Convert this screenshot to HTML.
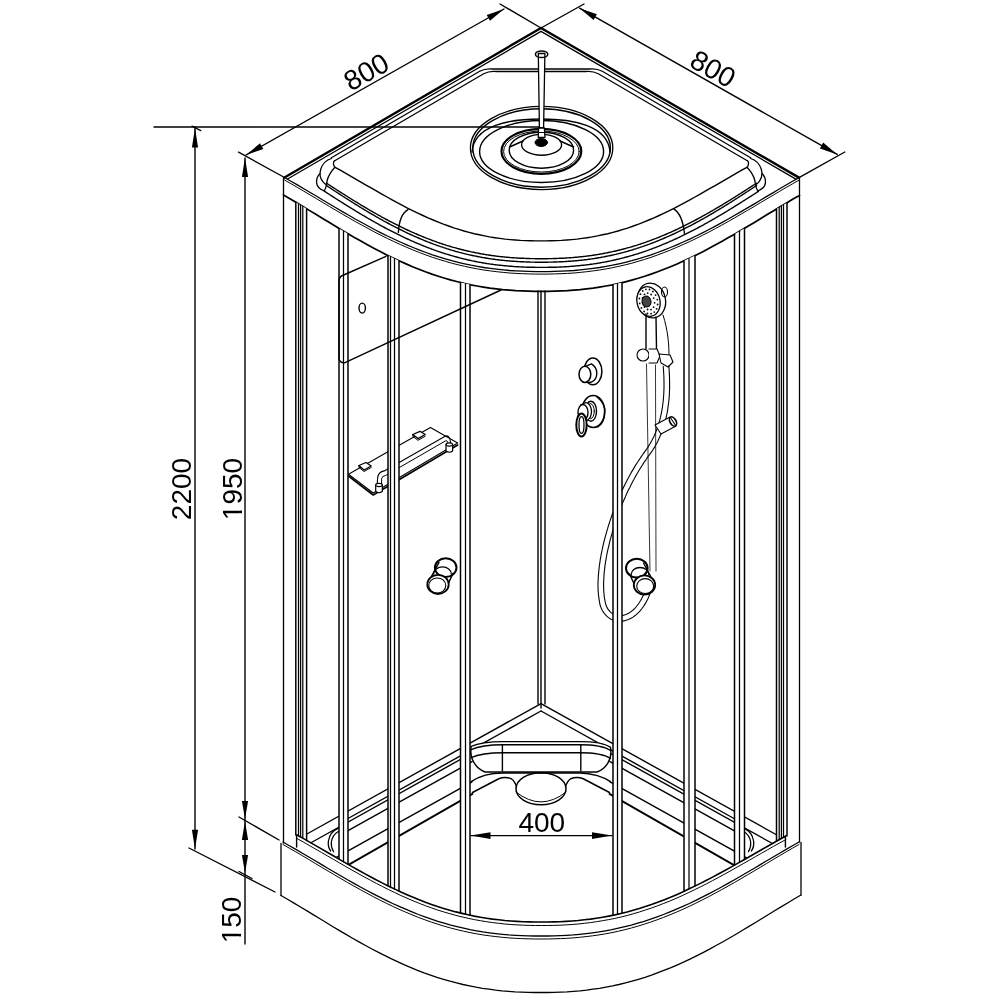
<!DOCTYPE html>
<html><head><meta charset="utf-8"><style>
html,body{margin:0;padding:0;background:#fff;}
svg{display:block;}
text{font-family:"Liberation Sans",sans-serif;fill:#000;stroke:none;}
svg{will-change:transform;}
</style></head><body>
<svg width="1000" height="1000" viewBox="0 0 1000 1000" stroke="#000" fill="none" stroke-linecap="round" stroke-linejoin="round">
<rect x="0" y="0" width="1000" height="1000" fill="#fff" stroke="none"/>
<line x1="154.0" y1="127.0" x2="539.0" y2="127.0" stroke-width="1.4"/>
<line x1="195.0" y1="127.0" x2="195.0" y2="849.0" stroke-width="1.4"/>
<path d="M195.0,128.2 L198.1,147.4 L191.9,147.4 Z" fill="#000" stroke="none"/>
<path d="M195.0,849.0 L191.9,829.8 L198.1,829.8 Z" fill="#000" stroke="none"/>
<line x1="192.0" y1="126.2" x2="200.8" y2="130.6" stroke-width="1.3"/>
<line x1="189.0" y1="848.0" x2="275.0" y2="892.0" stroke-width="1.4"/>
<line x1="245.0" y1="158.0" x2="245.0" y2="944.0" stroke-width="1.4"/>
<path d="M245.0,157.8 L248.1,177.0 L241.9,177.0 Z" fill="#000" stroke="none"/>
<path d="M245.0,819.0 L241.9,801.0 L248.1,801.0 Z" fill="#000" stroke="none"/>
<path d="M245.0,821.0 L248.1,840.0 L241.9,840.0 Z" fill="#000" stroke="none"/>
<path d="M245.0,873.0 L241.9,855.0 L248.1,855.0 Z" fill="#000" stroke="none"/>
<line x1="238.6" y1="152.2" x2="284.5" y2="177.5" stroke-width="1.4"/>
<line x1="239.0" y1="817.0" x2="279.0" y2="840.0" stroke-width="1.4"/>
<line x1="239.0" y1="871.5" x2="252.0" y2="878.5" stroke-width="1.4"/>
<line x1="246.0" y1="155.0" x2="504.0" y2="9.0" stroke-width="1.4"/>
<path d="M246.0,155.0 L260.0,143.3 L263.3,149.0 Z" fill="#000" stroke="none"/>
<path d="M504.0,9.0 L490.0,20.7 L486.7,15.0 Z" fill="#000" stroke="none"/>
<line x1="500.0" y1="4.0" x2="541.0" y2="28.0" stroke-width="1.4"/>
<line x1="579.6" y1="8.2" x2="837.2" y2="154.4" stroke-width="1.4"/>
<path d="M579.6,8.2 L596.9,14.2 L593.6,20.0 Z" fill="#000" stroke="none"/>
<path d="M837.2,154.4 L819.9,148.4 L823.2,142.6 Z" fill="#000" stroke="none"/>
<line x1="584.0" y1="4.0" x2="541.0" y2="28.0" stroke-width="1.4"/>
<line x1="799.0" y1="177.6" x2="844.8" y2="152.0" stroke-width="1.4"/>
<line x1="470.5" y1="835.6" x2="612.0" y2="835.6" stroke-width="1.4"/>
<path d="M470.5,835.6 L490.5,832.3 L490.5,838.9 Z" fill="#000" stroke="none"/>
<path d="M612.0,835.6 L592.0,838.9 L592.0,832.3 Z" fill="#000" stroke="none"/>
<text x="366.3" y="72" font-size="28" text-anchor="middle" dominant-baseline="central" transform="rotate(-29.5 366.3 72)">800</text>
<text x="713" y="69" font-size="28" text-anchor="middle" dominant-baseline="central" transform="rotate(29.5 713 69)">800</text>
<text x="181.5" y="489" font-size="28" text-anchor="middle" dominant-baseline="central" transform="rotate(-90 181.5 489)">2200</text>
<text x="232" y="489" font-size="28" text-anchor="middle" dominant-baseline="central" transform="rotate(-90 232 489)">1950</text>
<text x="231" y="920" font-size="28" text-anchor="middle" dominant-baseline="central" transform="rotate(-90 231 920)">150</text>
<text x="541.8" y="822.5" font-size="28" text-anchor="middle" dominant-baseline="central">400</text>
<g transform="rotate(-90 232 489)" fill="#fff" stroke="none"><rect x="202.05" y="496.17" width="5.75" height="3.5"/><rect x="210.40" y="496.17" width="5.60" height="3.5"/></g>
<g transform="rotate(-90 231 920)" fill="#fff" stroke="none"><rect x="208.84" y="927.17" width="5.75" height="3.5"/><rect x="217.19" y="927.17" width="5.60" height="3.5"/></g>
<line x1="284.5" y1="177.5" x2="541.0" y2="28.0" stroke-width="2.4"/>
<line x1="799.0" y1="177.6" x2="541.0" y2="28.0" stroke-width="2.4"/>
<line x1="287.6" y1="179.0" x2="541.0" y2="31.4" stroke-width="1.3"/>
<line x1="795.9" y1="179.1" x2="541.0" y2="31.4" stroke-width="1.3"/>
<path d="M331.4,157.8 L479.7,71.3 Q485.2,68.2 492.7,69.0 L589.3,69.0 Q596.8,68.2 602.3,71.3 L750.6,157.8" stroke-width="1.3" fill="none"/>
<path d="M334.7,160.7 L483.7,73.8 Q489.2,70.7 496.7,71.5 L585.3,71.5 Q592.8,70.7 598.3,73.8 L747.3,160.7" stroke-width="1.3" fill="none"/>
<path d="M284.5,177.5 L290.9,181.2 L297.4,184.9 L303.8,188.7 L310.2,192.5 L316.7,196.3 L323.1,200.2 L329.5,204.0 L335.9,207.8 L342.4,211.6 L348.8,215.3 L355.2,219.0 L361.7,222.5 L368.1,226.0 L374.5,229.5 L381.0,232.8 L387.4,236.0 L393.8,239.0 L400.3,242.0 L406.7,244.8 L413.1,247.5 L419.6,250.1 L426.0,252.5 L432.4,254.8 L438.9,256.9 L445.3,258.8 L451.7,260.7 L458.1,262.3 L464.6,263.8 L471.0,265.2 L477.4,266.4 L483.9,267.5 L490.3,268.4 L496.7,269.2 L503.2,269.9 L509.6,270.5 L516.0,270.9 L522.5,271.2 L528.9,271.4 L535.3,271.6 L541.8,271.6 L548.2,271.6 L554.6,271.4 L561.0,271.2 L567.5,270.9 L573.9,270.5 L580.3,269.9 L586.8,269.2 L593.2,268.4 L599.6,267.5 L606.1,266.4 L612.5,265.2 L618.9,263.8 L625.4,262.3 L631.8,260.7 L638.2,258.8 L644.6,256.9 L651.1,254.8 L657.5,252.5 L663.9,250.1 L670.4,247.5 L676.8,244.8 L683.2,242.0 L689.7,239.1 L696.1,236.0 L702.5,232.8 L709.0,229.5 L715.4,226.1 L721.8,222.6 L728.3,219.0 L734.7,215.3 L741.1,211.6 L747.5,207.9 L754.0,204.1 L760.4,200.2 L766.8,196.4 L773.3,192.6 L779.7,188.8 L786.1,185.0 L792.6,181.3 L799.0,177.6" stroke-width="1.3" fill="none"/>
<path d="M284.5,180.0 L290.9,183.7 L297.4,187.4 L303.8,191.2 L310.2,195.0 L316.7,198.8 L323.1,202.7 L329.5,206.5 L335.9,210.3 L342.4,214.1 L348.8,217.8 L355.2,221.5 L361.7,225.0 L368.1,228.5 L374.5,232.0 L381.0,235.3 L387.4,238.5 L393.8,241.5 L400.3,244.5 L406.7,247.3 L413.1,250.0 L419.6,252.6 L426.0,255.0 L432.4,257.3 L438.9,259.4 L445.3,261.3 L451.7,263.2 L458.1,264.8 L464.6,266.3 L471.0,267.7 L477.4,268.9 L483.9,270.0 L490.3,270.9 L496.7,271.7 L503.2,272.4 L509.6,273.0 L516.0,273.4 L522.5,273.7 L528.9,273.9 L535.3,274.1 L541.8,274.1 L548.2,274.1 L554.6,273.9 L561.0,273.7 L567.5,273.4 L573.9,273.0 L580.3,272.4 L586.8,271.7 L593.2,270.9 L599.6,270.0 L606.1,268.9 L612.5,267.7 L618.9,266.3 L625.4,264.8 L631.8,263.2 L638.2,261.3 L644.6,259.4 L651.1,257.3 L657.5,255.0 L663.9,252.6 L670.4,250.0 L676.8,247.3 L683.2,244.5 L689.7,241.6 L696.1,238.5 L702.5,235.3 L709.0,232.0 L715.4,228.6 L721.8,225.1 L728.3,221.5 L734.7,217.8 L741.1,214.1 L747.5,210.4 L754.0,206.6 L760.4,202.7 L766.8,198.9 L773.3,195.1 L779.7,191.3 L786.1,187.5 L792.6,183.8 L799.0,180.1" stroke-width="1.0" fill="none"/>
<path d="M283.5,195.0 L289.9,198.7 L296.4,202.6 L302.9,206.4 L309.3,210.4 L315.8,214.3 L322.2,218.2 L328.6,222.1 L335.1,226.0 L341.6,229.9 L348.0,233.7 L354.4,237.5 L360.9,241.1 L367.4,244.7 L373.8,248.2 L380.2,251.6 L386.7,254.9 L393.1,258.0 L399.6,261.0 L406.1,263.9 L412.5,266.7 L418.9,269.3 L425.4,271.8 L431.9,274.1 L438.3,276.2 L444.8,278.2 L451.2,280.1 L457.6,281.8 L464.1,283.4 L470.6,284.8 L477.0,286.0 L483.4,287.1 L489.9,288.1 L496.4,288.9 L502.8,289.6 L509.2,290.1 L515.7,290.6 L522.1,290.9 L528.6,291.1 L535.0,291.3 L541.5,291.3 L548.0,291.3 L554.4,291.1 L560.9,290.9 L567.3,290.6 L573.8,290.1 L580.2,289.6 L586.6,288.9 L593.1,288.1 L599.5,287.1 L606.0,286.0 L612.5,284.8 L618.9,283.4 L625.4,281.8 L631.8,280.1 L638.2,278.3 L644.7,276.3 L651.1,274.1 L657.6,271.8 L664.0,269.3 L670.5,266.7 L677.0,264.0 L683.4,261.1 L689.9,258.1 L696.3,254.9 L702.8,251.7 L709.2,248.3 L715.6,244.8 L722.1,241.3 L728.5,237.6 L735.0,233.9 L741.5,230.1 L747.9,226.3 L754.4,222.4 L760.8,218.5 L767.2,214.6 L773.7,210.7 L780.1,206.8 L786.6,202.9 L793.0,199.1 L799.5,195.4" stroke-width="1.7" fill="none"/>
<path d="M326.5,183.2 L327.5,183.8 L328.5,184.5 L329.5,185.1 L330.5,185.8 L331.5,186.4 L332.5,187.1 L333.5,187.7 L334.5,188.3 L335.5,189.0 L336.5,189.6 L337.5,190.3 L338.5,190.9 L339.5,191.6 L340.5,192.2 L341.5,192.8 L342.5,193.5 L343.5,194.1 L344.5,194.7 L345.5,195.4 L346.5,196.0 L347.5,196.6 L348.5,197.3 L349.5,197.9 L350.5,198.5 L351.5,199.1 L352.5,199.8 L353.5,200.4 L354.5,201.0 L355.5,201.6 L356.5,202.2 L357.5,202.8 L358.5,203.4 L359.5,204.0 L360.5,204.7 L361.5,205.3 L362.5,205.9 L363.5,206.5 L364.5,207.0 L365.5,207.6 L366.5,208.2 L367.5,208.8 L368.5,209.4 L369.5,210.0 L370.5,210.6 L371.5,211.2 L372.5,211.7 L373.5,212.3 L374.5,212.9 L375.5,213.4 L376.5,214.0 L377.5,214.6 L378.5,215.1 L379.5,215.7 L380.5,216.2 L381.5,216.8 L382.5,217.3 L383.5,217.9 L384.5,218.4 L385.5,219.0 L386.5,219.5 L387.5,220.0 L388.5,220.6 L389.5,221.1 L390.5,221.6 L391.5,222.1 L392.5,222.7 L393.5,223.2 L394.5,223.7 L395.5,224.2 L396.5,224.7 L397.5,225.2 L398.5,225.7 L399.5,226.2 L400.5,226.7 L401.5,227.2 L402.5,227.6 L403.5,228.1 L404.5,228.6 L405.5,229.1 L406.5,229.5 L407.5,230.0 L408.5,230.5 L409.5,230.9 L410.5,231.4 L411.5,231.8 L412.5,232.3 L413.5,232.7 L414.5,233.2 L415.5,233.6 L416.5,234.0 L417.5,234.5 L418.5,234.9 L419.5,235.3 L420.5,235.7 L421.5,236.2 L422.5,236.6 L423.5,237.0 L424.5,237.4 L425.5,237.8 L426.5,238.2 L427.5,238.6 L428.5,238.9 L429.5,239.3 L430.5,239.7 L431.5,240.1 L432.5,240.5 L433.5,240.8 L434.5,241.2 L435.5,241.5 L436.5,241.9 L437.5,242.3 L438.5,242.6 L439.5,243.0 L440.5,243.3 L441.5,243.6 L442.5,244.0 L443.5,244.3 L444.5,244.6 L445.5,244.9 L446.5,245.3 L447.5,245.6 L448.5,245.9 L449.5,246.2 L450.5,246.5 L451.5,246.8 L452.5,247.1 L453.5,247.4 L454.5,247.6 L455.5,247.9 L456.5,248.2 L457.5,248.5 L458.5,248.7 L459.5,249.0 L460.5,249.3 L461.5,249.5 L462.5,249.8 L463.5,250.0 L464.5,250.3 L465.5,250.5 L466.5,250.8 L467.5,251.0 L468.5,251.2 L469.5,251.4 L470.5,251.7 L471.5,251.9 L472.5,252.1 L473.5,252.3 L474.5,252.5 L475.5,252.7 L476.5,252.9 L477.5,253.1 L478.5,253.3 L479.5,253.5 L480.5,253.7 L481.5,253.9 L482.5,254.0 L483.5,254.2 L484.5,254.4 L485.5,254.6 L486.5,254.7 L487.5,254.9 L488.5,255.0 L489.5,255.2 L490.5,255.3 L491.5,255.5 L492.5,255.6 L493.5,255.7 L494.5,255.9 L495.5,256.0 L496.5,256.1 L497.5,256.3 L498.5,256.4 L499.5,256.5 L500.5,256.6 L501.5,256.7 L502.5,256.8 L503.5,256.9 L504.5,257.0 L505.5,257.1 L506.5,257.2 L507.5,257.3 L508.5,257.4 L509.5,257.5 L510.5,257.6 L511.5,257.6 L512.5,257.7 L513.5,257.8 L514.5,257.9 L515.5,257.9 L516.5,258.0 L517.5,258.0 L518.5,258.1 L519.5,258.2 L520.5,258.2 L521.5,258.3 L522.5,258.3 L523.5,258.3 L524.5,258.4 L525.5,258.4 L526.5,258.5 L527.5,258.5 L528.5,258.5 L529.5,258.5 L530.5,258.6 L531.5,258.6 L532.5,258.6 L533.5,258.6 L534.5,258.6 L535.5,258.7 L536.5,258.7 L537.5,258.7 L538.5,258.7 L539.5,258.7 L540.5,258.7 L541.5,258.7 L542.5,258.7 L543.5,258.7 L544.5,258.7 L545.5,258.7 L546.5,258.7 L547.5,258.7 L548.5,258.6 L549.5,258.6 L550.5,258.6 L551.5,258.6 L552.5,258.6 L553.5,258.5 L554.5,258.5 L555.5,258.5 L556.5,258.5 L557.5,258.4 L558.5,258.4 L559.5,258.3 L560.5,258.3 L561.5,258.3 L562.5,258.2 L563.5,258.2 L564.5,258.1 L565.5,258.0 L566.5,258.0 L567.5,257.9 L568.5,257.9 L569.5,257.8 L570.5,257.7 L571.5,257.6 L572.5,257.6 L573.5,257.5 L574.5,257.4 L575.5,257.3 L576.5,257.2 L577.5,257.1 L578.5,257.0 L579.5,256.9 L580.5,256.8 L581.5,256.7 L582.5,256.6 L583.5,256.5 L584.5,256.4 L585.5,256.3 L586.5,256.1 L587.5,256.0 L588.5,255.9 L589.5,255.7 L590.5,255.6 L591.5,255.5 L592.5,255.3 L593.5,255.2 L594.5,255.0 L595.5,254.9 L596.5,254.7 L597.5,254.6 L598.5,254.4 L599.5,254.2 L600.5,254.0 L601.5,253.9 L602.5,253.7 L603.5,253.5 L604.5,253.3 L605.5,253.1 L606.5,252.9 L607.5,252.7 L608.5,252.5 L609.5,252.3 L610.5,252.1 L611.5,251.9 L612.5,251.7 L613.5,251.4 L614.5,251.2 L615.5,251.0 L616.5,250.8 L617.5,250.5 L618.5,250.3 L619.5,250.0 L620.5,249.8 L621.5,249.5 L622.5,249.3 L623.5,249.0 L624.5,248.7 L625.5,248.5 L626.5,248.2 L627.5,247.9 L628.5,247.6 L629.5,247.4 L630.5,247.1 L631.5,246.8 L632.5,246.5 L633.5,246.2 L634.5,245.9 L635.5,245.6 L636.5,245.3 L637.5,244.9 L638.5,244.6 L639.5,244.3 L640.5,244.0 L641.5,243.6 L642.5,243.3 L643.5,243.0 L644.5,242.6 L645.5,242.3 L646.5,241.9 L647.5,241.5 L648.5,241.2 L649.5,240.8 L650.5,240.5 L651.5,240.1 L652.5,239.7 L653.5,239.3 L654.5,238.9 L655.5,238.6 L656.5,238.2 L657.5,237.8 L658.5,237.4 L659.5,237.0 L660.5,236.6 L661.5,236.2 L662.5,235.7 L663.5,235.3 L664.5,234.9 L665.5,234.5 L666.5,234.0 L667.5,233.6 L668.5,233.2 L669.5,232.7 L670.5,232.3 L671.5,231.8 L672.5,231.4 L673.5,230.9 L674.5,230.5 L675.5,230.0 L676.5,229.5 L677.5,229.1 L678.5,228.6 L679.5,228.1 L680.5,227.6 L681.5,227.2 L682.5,226.7 L683.5,226.2 L684.5,225.7 L685.5,225.2 L686.5,224.7 L687.5,224.2 L688.5,223.7 L689.5,223.2 L690.5,222.7 L691.5,222.1 L692.5,221.6 L693.5,221.1 L694.5,220.6 L695.5,220.0 L696.5,219.5 L697.5,219.0 L698.5,218.4 L699.5,217.9 L700.5,217.3 L701.5,216.8 L702.5,216.2 L703.5,215.7 L704.5,215.1 L705.5,214.6 L706.5,214.0 L707.5,213.4 L708.5,212.9 L709.5,212.3 L710.5,211.7 L711.5,211.2 L712.5,210.6 L713.5,210.0 L714.5,209.4 L715.5,208.8 L716.5,208.2 L717.5,207.6 L718.5,207.0 L719.5,206.5 L720.5,205.9 L721.5,205.3 L722.5,204.7 L723.5,204.0 L724.5,203.4 L725.5,202.8 L726.5,202.2 L727.5,201.6 L728.5,201.0 L729.5,200.4 L730.5,199.8 L731.5,199.1 L732.5,198.5 L733.5,197.9 L734.5,197.3 L735.5,196.6 L736.5,196.0 L737.5,195.4 L738.5,194.7 L739.5,194.1 L740.5,193.5 L741.5,192.8 L742.5,192.2 L743.5,191.6 L744.5,190.9 L745.5,190.3 L746.5,189.6 L747.5,189.0 L748.5,188.3 L749.5,187.7 L750.5,187.1 L751.5,186.4 L752.5,185.8 L753.5,185.1 L754.5,184.5 L755.5,183.8 L756.5,183.2" stroke-width="1.4"/>
<path d="M326.5,185.6 L327.5,186.2 L328.5,186.9 L329.5,187.5 L330.5,188.2 L331.5,188.9 L332.5,189.5 L333.5,190.2 L334.5,190.8 L335.5,191.5 L336.5,192.1 L337.5,192.8 L338.5,193.4 L339.5,194.1 L340.5,194.7 L341.5,195.4 L342.5,196.0 L343.5,196.7 L344.5,197.3 L345.5,198.0 L346.5,198.6 L347.5,199.2 L348.5,199.9 L349.5,200.5 L350.5,201.1 L351.5,201.8 L352.5,202.4 L353.5,203.0 L354.5,203.7 L355.5,204.3 L356.5,204.9 L357.5,205.5 L358.5,206.1 L359.5,206.8 L360.5,207.4 L361.5,208.0 L362.5,208.6 L363.5,209.2 L364.5,209.8 L365.5,210.4 L366.5,211.0 L367.5,211.6 L368.5,212.2 L369.5,212.8 L370.5,213.4 L371.5,214.0 L372.5,214.5 L373.5,215.1 L374.5,215.7 L375.5,216.3 L376.5,216.9 L377.5,217.4 L378.5,218.0 L379.5,218.6 L380.5,219.1 L381.5,219.7 L382.5,220.2 L383.5,220.8 L384.5,221.3 L385.5,221.9 L386.5,222.4 L387.5,223.0 L388.5,223.5 L389.5,224.0 L390.5,224.6 L391.5,225.1 L392.5,225.6 L393.5,226.1 L394.5,226.7 L395.5,227.2 L396.5,227.7 L397.5,228.2 L398.5,228.7 L399.5,229.2 L400.5,229.7 L401.5,230.2 L402.5,230.7 L403.5,231.2 L404.5,231.7 L405.5,232.1 L406.5,232.6 L407.5,233.1 L408.5,233.6 L409.5,234.0 L410.5,234.5 L411.5,234.9 L412.5,235.4 L413.5,235.9 L414.5,236.3 L415.5,236.7 L416.5,237.2 L417.5,237.6 L418.5,238.0 L419.5,238.5 L420.5,238.9 L421.5,239.3 L422.5,239.7 L423.5,240.2 L424.5,240.6 L425.5,241.0 L426.5,241.4 L427.5,241.8 L428.5,242.2 L429.5,242.5 L430.5,242.9 L431.5,243.3 L432.5,243.7 L433.5,244.1 L434.5,244.4 L435.5,244.8 L436.5,245.2 L437.5,245.5 L438.5,245.9 L439.5,246.2 L440.5,246.6 L441.5,246.9 L442.5,247.2 L443.5,247.6 L444.5,247.9 L445.5,248.2 L446.5,248.6 L447.5,248.9 L448.5,249.2 L449.5,249.5 L450.5,249.8 L451.5,250.1 L452.5,250.4 L453.5,250.7 L454.5,251.0 L455.5,251.3 L456.5,251.6 L457.5,251.8 L458.5,252.1 L459.5,252.4 L460.5,252.6 L461.5,252.9 L462.5,253.2 L463.5,253.4 L464.5,253.7 L465.5,253.9 L466.5,254.1 L467.5,254.4 L468.5,254.6 L469.5,254.8 L470.5,255.1 L471.5,255.3 L472.5,255.5 L473.5,255.7 L474.5,255.9 L475.5,256.1 L476.5,256.3 L477.5,256.5 L478.5,256.7 L479.5,256.9 L480.5,257.1 L481.5,257.3 L482.5,257.5 L483.5,257.6 L484.5,257.8 L485.5,258.0 L486.5,258.2 L487.5,258.3 L488.5,258.5 L489.5,258.6 L490.5,258.8 L491.5,258.9 L492.5,259.1 L493.5,259.2 L494.5,259.3 L495.5,259.5 L496.5,259.6 L497.5,259.7 L498.5,259.8 L499.5,260.0 L500.5,260.1 L501.5,260.2 L502.5,260.3 L503.5,260.4 L504.5,260.5 L505.5,260.6 L506.5,260.7 L507.5,260.8 L508.5,260.9 L509.5,261.0 L510.5,261.0 L511.5,261.1 L512.5,261.2 L513.5,261.3 L514.5,261.3 L515.5,261.4 L516.5,261.5 L517.5,261.5 L518.5,261.6 L519.5,261.6 L520.5,261.7 L521.5,261.7 L522.5,261.8 L523.5,261.8 L524.5,261.9 L525.5,261.9 L526.5,262.0 L527.5,262.0 L528.5,262.0 L529.5,262.0 L530.5,262.1 L531.5,262.1 L532.5,262.1 L533.5,262.1 L534.5,262.1 L535.5,262.2 L536.5,262.2 L537.5,262.2 L538.5,262.2 L539.5,262.2 L540.5,262.2 L541.5,262.2 L542.5,262.2 L543.5,262.2 L544.5,262.2 L545.5,262.2 L546.5,262.2 L547.5,262.2 L548.5,262.1 L549.5,262.1 L550.5,262.1 L551.5,262.1 L552.5,262.1 L553.5,262.0 L554.5,262.0 L555.5,262.0 L556.5,262.0 L557.5,261.9 L558.5,261.9 L559.5,261.8 L560.5,261.8 L561.5,261.7 L562.5,261.7 L563.5,261.6 L564.5,261.6 L565.5,261.5 L566.5,261.5 L567.5,261.4 L568.5,261.3 L569.5,261.3 L570.5,261.2 L571.5,261.1 L572.5,261.0 L573.5,261.0 L574.5,260.9 L575.5,260.8 L576.5,260.7 L577.5,260.6 L578.5,260.5 L579.5,260.4 L580.5,260.3 L581.5,260.2 L582.5,260.1 L583.5,260.0 L584.5,259.8 L585.5,259.7 L586.5,259.6 L587.5,259.5 L588.5,259.3 L589.5,259.2 L590.5,259.1 L591.5,258.9 L592.5,258.8 L593.5,258.6 L594.5,258.5 L595.5,258.3 L596.5,258.2 L597.5,258.0 L598.5,257.8 L599.5,257.6 L600.5,257.5 L601.5,257.3 L602.5,257.1 L603.5,256.9 L604.5,256.7 L605.5,256.5 L606.5,256.3 L607.5,256.1 L608.5,255.9 L609.5,255.7 L610.5,255.5 L611.5,255.3 L612.5,255.1 L613.5,254.8 L614.5,254.6 L615.5,254.4 L616.5,254.1 L617.5,253.9 L618.5,253.7 L619.5,253.4 L620.5,253.2 L621.5,252.9 L622.5,252.6 L623.5,252.4 L624.5,252.1 L625.5,251.8 L626.5,251.6 L627.5,251.3 L628.5,251.0 L629.5,250.7 L630.5,250.4 L631.5,250.1 L632.5,249.8 L633.5,249.5 L634.5,249.2 L635.5,248.9 L636.5,248.6 L637.5,248.2 L638.5,247.9 L639.5,247.6 L640.5,247.2 L641.5,246.9 L642.5,246.6 L643.5,246.2 L644.5,245.9 L645.5,245.5 L646.5,245.2 L647.5,244.8 L648.5,244.4 L649.5,244.1 L650.5,243.7 L651.5,243.3 L652.5,242.9 L653.5,242.5 L654.5,242.2 L655.5,241.8 L656.5,241.4 L657.5,241.0 L658.5,240.6 L659.5,240.2 L660.5,239.7 L661.5,239.3 L662.5,238.9 L663.5,238.5 L664.5,238.0 L665.5,237.6 L666.5,237.2 L667.5,236.7 L668.5,236.3 L669.5,235.9 L670.5,235.4 L671.5,234.9 L672.5,234.5 L673.5,234.0 L674.5,233.6 L675.5,233.1 L676.5,232.6 L677.5,232.1 L678.5,231.7 L679.5,231.2 L680.5,230.7 L681.5,230.2 L682.5,229.7 L683.5,229.2 L684.5,228.7 L685.5,228.2 L686.5,227.7 L687.5,227.2 L688.5,226.7 L689.5,226.1 L690.5,225.6 L691.5,225.1 L692.5,224.6 L693.5,224.0 L694.5,223.5 L695.5,223.0 L696.5,222.4 L697.5,221.9 L698.5,221.3 L699.5,220.8 L700.5,220.2 L701.5,219.7 L702.5,219.1 L703.5,218.6 L704.5,218.0 L705.5,217.4 L706.5,216.9 L707.5,216.3 L708.5,215.7 L709.5,215.1 L710.5,214.5 L711.5,214.0 L712.5,213.4 L713.5,212.8 L714.5,212.2 L715.5,211.6 L716.5,211.0 L717.5,210.4 L718.5,209.8 L719.5,209.2 L720.5,208.6 L721.5,208.0 L722.5,207.4 L723.5,206.8 L724.5,206.1 L725.5,205.5 L726.5,204.9 L727.5,204.3 L728.5,203.7 L729.5,203.0 L730.5,202.4 L731.5,201.8 L732.5,201.1 L733.5,200.5 L734.5,199.9 L735.5,199.2 L736.5,198.6 L737.5,198.0 L738.5,197.3 L739.5,196.7 L740.5,196.0 L741.5,195.4 L742.5,194.7 L743.5,194.1 L744.5,193.4 L745.5,192.8 L746.5,192.1 L747.5,191.5 L748.5,190.8 L749.5,190.2 L750.5,189.5 L751.5,188.9 L752.5,188.2 L753.5,187.5 L754.5,186.9 L755.5,186.2 L756.5,185.6" stroke-width="1.4"/>
<path d="M324.5,191.3 L325.5,191.9 L326.5,192.6 L327.5,193.2 L328.5,193.9 L329.5,194.5 L330.5,195.2 L331.5,195.8 L332.5,196.4 L333.5,197.1 L334.5,197.7 L335.5,198.4 L336.5,199.0 L337.5,199.6 L338.5,200.3 L339.5,200.9 L340.5,201.5 L341.5,202.2 L342.5,202.8 L343.5,203.4 L344.5,204.1 L345.5,204.7 L346.5,205.3 L347.5,205.9 L348.5,206.6 L349.5,207.2 L350.5,207.8 L351.5,208.4 L352.5,209.0 L353.5,209.6 L354.5,210.2 L355.5,210.9 L356.5,211.5 L357.5,212.1 L358.5,212.7 L359.5,213.3 L360.5,213.9 L361.5,214.5 L362.5,215.1 L363.5,215.7 L364.5,216.2 L365.5,216.8 L366.5,217.4 L367.5,218.0 L368.5,218.6 L369.5,219.2 L370.5,219.7 L371.5,220.3 L372.5,220.9 L373.5,221.4 L374.5,222.0 L375.5,222.6 L376.5,223.1 L377.5,223.7 L378.5,224.2 L379.5,224.8 L380.5,225.3 L381.5,225.9 L382.5,226.4 L383.5,227.0 L384.5,227.5 L385.5,228.0 L386.5,228.6 L387.5,229.1 L388.5,229.6 L389.5,230.2 L390.5,230.7 L391.5,231.2 L392.5,231.7 L393.5,232.2 L394.5,232.7 L395.5,233.2 L396.5,233.7 L397.5,234.2 L398.5,234.7 L399.5,235.2 L400.5,235.7 L401.5,236.2 L402.5,236.6 L403.5,237.1 L404.5,237.6 L405.5,238.1 L406.5,238.5 L407.5,239.0 L408.5,239.4 L409.5,239.9 L410.5,240.3 L411.5,240.8 L412.5,241.2 L413.5,241.7 L414.5,242.1 L415.5,242.6 L416.5,243.0 L417.5,243.4 L418.5,243.8 L419.5,244.2 L420.5,244.7 L421.5,245.1 L422.5,245.5 L423.5,245.9 L424.5,246.3 L425.5,246.7 L426.5,247.1 L427.5,247.5 L428.5,247.8 L429.5,248.2 L430.5,248.6 L431.5,249.0 L432.5,249.3 L433.5,249.7 L434.5,250.1 L435.5,250.4 L436.5,250.8 L437.5,251.1 L438.5,251.5 L439.5,251.8 L440.5,252.1 L441.5,252.5 L442.5,252.8 L443.5,253.1 L444.5,253.5 L445.5,253.8 L446.5,254.1 L447.5,254.4 L448.5,254.7 L449.5,255.0 L450.5,255.3 L451.5,255.6 L452.5,255.9 L453.5,256.2 L454.5,256.5 L455.5,256.7 L456.5,257.0 L457.5,257.3 L458.5,257.5 L459.5,257.8 L460.5,258.1 L461.5,258.3 L462.5,258.6 L463.5,258.8 L464.5,259.1 L465.5,259.3 L466.5,259.5 L467.5,259.8 L468.5,260.0 L469.5,260.2 L470.5,260.4 L471.5,260.7 L472.5,260.9 L473.5,261.1 L474.5,261.3 L475.5,261.5 L476.5,261.7 L477.5,261.9 L478.5,262.1 L479.5,262.3 L480.5,262.4 L481.5,262.6 L482.5,262.8 L483.5,263.0 L484.5,263.1 L485.5,263.3 L486.5,263.5 L487.5,263.6 L488.5,263.8 L489.5,263.9 L490.5,264.1 L491.5,264.2 L492.5,264.3 L493.5,264.5 L494.5,264.6 L495.5,264.7 L496.5,264.9 L497.5,265.0 L498.5,265.1 L499.5,265.2 L500.5,265.3 L501.5,265.4 L502.5,265.5 L503.5,265.6 L504.5,265.7 L505.5,265.8 L506.5,265.9 L507.5,266.0 L508.5,266.1 L509.5,266.2 L510.5,266.3 L511.5,266.3 L512.5,266.4 L513.5,266.5 L514.5,266.6 L515.5,266.6 L516.5,266.7 L517.5,266.7 L518.5,266.8 L519.5,266.9 L520.5,266.9 L521.5,267.0 L522.5,267.0 L523.5,267.0 L524.5,267.1 L525.5,267.1 L526.5,267.2 L527.5,267.2 L528.5,267.2 L529.5,267.2 L530.5,267.3 L531.5,267.3 L532.5,267.3 L533.5,267.3 L534.5,267.3 L535.5,267.4 L536.5,267.4 L537.5,267.4 L538.5,267.4 L539.5,267.4 L540.5,267.4 L541.5,267.4 L542.5,267.4 L543.5,267.4 L544.5,267.4 L545.5,267.4 L546.5,267.4 L547.5,267.4 L548.5,267.3 L549.5,267.3 L550.5,267.3 L551.5,267.3 L552.5,267.3 L553.5,267.2 L554.5,267.2 L555.5,267.2 L556.5,267.2 L557.5,267.1 L558.5,267.1 L559.5,267.0 L560.5,267.0 L561.5,267.0 L562.5,266.9 L563.5,266.9 L564.5,266.8 L565.5,266.7 L566.5,266.7 L567.5,266.6 L568.5,266.6 L569.5,266.5 L570.5,266.4 L571.5,266.3 L572.5,266.3 L573.5,266.2 L574.5,266.1 L575.5,266.0 L576.5,265.9 L577.5,265.8 L578.5,265.7 L579.5,265.6 L580.5,265.5 L581.5,265.4 L582.5,265.3 L583.5,265.2 L584.5,265.1 L585.5,265.0 L586.5,264.9 L587.5,264.7 L588.5,264.6 L589.5,264.5 L590.5,264.3 L591.5,264.2 L592.5,264.1 L593.5,263.9 L594.5,263.8 L595.5,263.6 L596.5,263.5 L597.5,263.3 L598.5,263.1 L599.5,263.0 L600.5,262.8 L601.5,262.6 L602.5,262.4 L603.5,262.3 L604.5,262.1 L605.5,261.9 L606.5,261.7 L607.5,261.5 L608.5,261.3 L609.5,261.1 L610.5,260.9 L611.5,260.7 L612.5,260.4 L613.5,260.2 L614.5,260.0 L615.5,259.8 L616.5,259.5 L617.5,259.3 L618.5,259.1 L619.5,258.8 L620.5,258.6 L621.5,258.3 L622.5,258.1 L623.5,257.8 L624.5,257.5 L625.5,257.3 L626.5,257.0 L627.5,256.7 L628.5,256.5 L629.5,256.2 L630.5,255.9 L631.5,255.6 L632.5,255.3 L633.5,255.0 L634.5,254.7 L635.5,254.4 L636.5,254.1 L637.5,253.8 L638.5,253.5 L639.5,253.1 L640.5,252.8 L641.5,252.5 L642.5,252.1 L643.5,251.8 L644.5,251.5 L645.5,251.1 L646.5,250.8 L647.5,250.4 L648.5,250.1 L649.5,249.7 L650.5,249.3 L651.5,249.0 L652.5,248.6 L653.5,248.2 L654.5,247.8 L655.5,247.5 L656.5,247.1 L657.5,246.7 L658.5,246.3 L659.5,245.9 L660.5,245.5 L661.5,245.1 L662.5,244.7 L663.5,244.2 L664.5,243.8 L665.5,243.4 L666.5,243.0 L667.5,242.6 L668.5,242.1 L669.5,241.7 L670.5,241.2 L671.5,240.8 L672.5,240.3 L673.5,239.9 L674.5,239.4 L675.5,239.0 L676.5,238.5 L677.5,238.1 L678.5,237.6 L679.5,237.1 L680.5,236.6 L681.5,236.2 L682.5,235.7 L683.5,235.2 L684.5,234.7 L685.5,234.2 L686.5,233.7 L687.5,233.2 L688.5,232.7 L689.5,232.2 L690.5,231.7 L691.5,231.2 L692.5,230.7 L693.5,230.2 L694.5,229.6 L695.5,229.1 L696.5,228.6 L697.5,228.0 L698.5,227.5 L699.5,227.0 L700.5,226.4 L701.5,225.9 L702.5,225.3 L703.5,224.8 L704.5,224.2 L705.5,223.7 L706.5,223.1 L707.5,222.6 L708.5,222.0 L709.5,221.4 L710.5,220.9 L711.5,220.3 L712.5,219.7 L713.5,219.2 L714.5,218.6 L715.5,218.0 L716.5,217.4 L717.5,216.8 L718.5,216.2 L719.5,215.7 L720.5,215.1 L721.5,214.5 L722.5,213.9 L723.5,213.3 L724.5,212.7 L725.5,212.1 L726.5,211.5 L727.5,210.9 L728.5,210.2 L729.5,209.6 L730.5,209.0 L731.5,208.4 L732.5,207.8 L733.5,207.2 L734.5,206.6 L735.5,205.9 L736.5,205.3 L737.5,204.7 L738.5,204.1 L739.5,203.4 L740.5,202.8 L741.5,202.2 L742.5,201.5 L743.5,200.9 L744.5,200.3 L745.5,199.6 L746.5,199.0 L747.5,198.4 L748.5,197.7 L749.5,197.1 L750.5,196.4 L751.5,195.8 L752.5,195.2 L753.5,194.5 L754.5,193.9 L755.5,193.2 L756.5,192.6 L757.5,191.9 L758.5,191.3" stroke-width="1.4"/>
<path d="M335.6,167.6 L340.7,170.4 L345.9,173.4 L351.0,176.3 L356.1,179.3 L361.3,182.3 L366.4,185.3 L371.5,188.2 L376.7,191.2 L381.8,194.1 L387.0,197.0 L392.1,199.9 L397.2,202.7 L402.4,205.4 L407.5,208.1 L412.6,210.6 L417.8,213.1 L422.9,215.5 L428.0,217.8 L433.2,220.0 L438.3,222.1 L443.4,224.1 L448.6,226.0 L453.7,227.8 L458.8,229.4 L464.0,231.0 L469.1,232.4 L474.2,233.7 L479.4,234.8 L484.5,235.9 L489.6,236.9 L494.8,237.7 L499.9,238.4 L505.1,239.1 L510.2,239.6 L515.3,240.0 L520.5,240.4 L525.6,240.6 L530.7,240.8 L535.9,240.9 L541.0,240.9 L546.1,240.9 L551.3,240.8 L556.4,240.6 L561.5,240.4 L566.7,240.0 L571.8,239.6 L576.9,239.1 L582.1,238.4 L587.2,237.7 L592.3,236.9 L597.5,235.9 L602.6,234.8 L607.8,233.7 L612.9,232.4 L618.0,231.0 L623.2,229.4 L628.3,227.8 L633.4,226.0 L638.6,224.1 L643.7,222.1 L648.8,220.0 L654.0,217.8 L659.1,215.5 L664.2,213.1 L669.4,210.6 L674.5,208.1 L679.6,205.4 L684.8,202.7 L689.9,199.9 L695.0,197.0 L700.2,194.1 L705.3,191.2 L710.5,188.2 L715.6,185.3 L720.7,182.3 L725.9,179.3 L731.0,176.3 L736.1,173.4 L741.3,170.4 L746.4,167.6" stroke-width="1.4" fill="none"/>
<path d="M408,209.6 C402,213 399,220 398.4,232.4" stroke-width="1.4" fill="none"/>
<path d="M674,209.2 C680,213 683,220 684.4,233.2" stroke-width="1.4" fill="none"/>
<path d="M331.4,158.5 C327,159.8 322.5,164 320.8,169 C319.6,173 320,178 322.6,181.3 C323.8,182.8 325,183.9 326.5,184.8" stroke-width="1.3" fill="none"/>
<path d="M320.1,173.6 C317.5,176 316.3,179.5 316.6,182.8 C317,186 319.5,189.2 324.2,190.8" stroke-width="1.3" fill="none"/>
<path d="M334.7,167.5 C331.5,171 328.5,175.5 327.3,180 C326.5,183.5 326.5,187.5 324.3,190.8" stroke-width="1.3" fill="none"/>
<path d="M334.7,160.6 C333,162 332.9,165 335,167.2" stroke-width="1.3" fill="none"/>
<path d="M750.6,158.5 C755,159.8 759.5,164 761.2,169 C762.4,173 762,178 759.4,181.3 C758.2,182.8 757,183.9 755.5,184.8" stroke-width="1.3" fill="none"/>
<path d="M761.9,173.6 C764.5,176 765.7,179.5 765.4,182.8 C765,186 762.5,189.2 757.8,190.8" stroke-width="1.3" fill="none"/>
<path d="M747.3,167.5 C750.5,171 753.5,175.5 754.7,180 C755.5,183.5 755.5,187.5 757.7,190.8" stroke-width="1.3" fill="none"/>
<path d="M747.3,160.6 C749,162 749.1,165 747,167.2" stroke-width="1.3" fill="none"/>
<ellipse cx="541.6" cy="148.0" rx="71.2" ry="41.6" stroke-width="1.3" fill="none"/>
<ellipse cx="541.6" cy="148.0" rx="68.8" ry="39.2" stroke-width="1.4" fill="none"/>
<path d="M472,152 C474,125 510,119 541,119 C572,119 608,125 610,152" stroke-width="1.4" fill="none"/>
<ellipse cx="541.6" cy="151.5" rx="62.0" ry="31.0" stroke-width="1.4" fill="none"/>
<ellipse cx="541.4" cy="151.3" rx="39.9" ry="22.5" stroke-width="2.2" fill="none"/>
<ellipse cx="541.4" cy="151.5" rx="37.8" ry="20.5" stroke-width="1.0" fill="none"/>
<ellipse cx="541.4" cy="150.2" rx="32.2" ry="18.0" stroke-width="1.4" fill="none"/>
<ellipse cx="541.6" cy="144.8" rx="20.0" ry="10.4" stroke-width="1.4" fill="none"/>
<line x1="509.6" y1="147.0" x2="523.0" y2="141.0" stroke-width="1.4"/>
<line x1="573.6" y1="147.0" x2="560.0" y2="141.0" stroke-width="1.4"/>
<path d="M538.3,53.5 L539.4,128 L543.6,128 L544.9,53.5 Z" fill="#fff" stroke-width="1.3"/>
<ellipse cx="541.6" cy="54.2" rx="6.2" ry="3.3" stroke-width="1.5" fill="none"/>
<path d="M538.6,128 L538.2,137.5 L545,137.5 L544.4,128 Z" fill="#fff" stroke-width="1.3"/>
<line x1="538.5" y1="132.5" x2="544.6" y2="132.5" stroke-width="1.2"/>
<ellipse cx="541.3" cy="142.5" rx="6.3" ry="4.0" stroke-width="1.0" fill="#000"/>
<line x1="538.0" y1="291.0" x2="538.0" y2="704.0" stroke-width="1.4"/>
<line x1="541.0" y1="291.0" x2="541.0" y2="708.0" stroke-width="1.4"/>
<line x1="545.0" y1="291.0" x2="545.0" y2="704.0" stroke-width="1.4"/>
<path d="M348.5,474.2 L430.4,427.4 L457.7,443 L373.2,493 Z" stroke-width="1.1" fill="#fff"/>
<path d="M348.5,476 L373.2,495 L457.7,445" stroke-width="1.6" fill="none"/>
<path d="M358.9,465.5 L366,462.5 L371.2,466 L364,470 Z" stroke-width="1.3" fill="#fff"/>
<path d="M358.9,465.5 L358.9,467.3 L364,471.5 L371.2,467.5" stroke-width="1.0" fill="none"/>
<path d="M412.8,434.5 L420,431.3 L425.2,434.5 L418,438.6 Z" stroke-width="1.3" fill="#fff"/>
<path d="M412.8,434.5 L412.8,436.3 L418,440.3 L425.2,436.3" stroke-width="1.0" fill="none"/>
<path d="M377,486 L377.7,477.4 Q378.5,472 384.2,470.9 L444.7,436.5 Q449.5,434 450.5,441.7 L450.5,445" stroke-width="1.1" fill="none"/>
<path d="M381.6,486 L381.6,478.7 Q382,476 385.5,475.5 L445.3,441 Q447.5,439.5 448,444" stroke-width="1.0" fill="none"/>
<path d="M375.7,485 L375.7,491.5 Q379,494 382.3,491.5 L382.3,485 Z" stroke-width="1.2" fill="#fff"/>
<ellipse cx="379.0" cy="485.0" rx="3.3" ry="1.6" stroke-width="1.1" fill="#fff"/>
<path d="M446,444.5 L446,451 Q449.3,453.5 452.6,451 L452.6,444.5 Z" stroke-width="1.2" fill="#fff"/>
<ellipse cx="449.3" cy="444.5" rx="3.3" ry="1.6" stroke-width="1.1" fill="#fff"/>
<ellipse cx="592.9" cy="371.4" rx="9.0" ry="13.3" stroke-width="1.5" fill="none"/>
<path d="M586.6,365.8 L591.5,363.8 Q596.8,367 596.8,373 Q596.8,380 591.5,382 L587.5,382.6" stroke-width="1.4" fill="#fff"/>
<ellipse cx="584.9" cy="374.3" rx="5.9" ry="8.1" stroke-width="1.5" fill="#fff"/>
<ellipse cx="593.2" cy="411.5" rx="11.5" ry="16.0" stroke-width="1.6" fill="none"/>
<path d="M597,397 Q606,404 604.6,413 Q604,424 597.5,427" stroke-width="1.4" fill="none"/>
<ellipse cx="590.9" cy="411.2" rx="5.6" ry="10.0" stroke-width="1.4" fill="none"/>
<ellipse cx="590.5" cy="411.2" rx="3.8" ry="7.5" stroke-width="1.0" fill="none"/>
<path d="M580.5,405 L586,402.5 Q591,404 591.5,411 Q591.5,418 587,420.5 L582,420.5" stroke-width="1.3" fill="#fff"/>
<ellipse cx="583.0" cy="412.4" rx="5.0" ry="7.9" stroke-width="1.4" fill="#fff"/>
<ellipse cx="581.5" cy="425.0" rx="5.2" ry="11.5" stroke-width="2.0" fill="#fff"/>
<ellipse cx="581.5" cy="425.0" rx="2.5" ry="8.3" stroke-width="1.3" fill="none"/>
<ellipse cx="651.5" cy="300.5" rx="14.0" ry="17.5" stroke-width="1.3" fill="none" transform="rotate(-12 651.5 300.5)"/>
<ellipse cx="648.5" cy="301.5" rx="11.5" ry="15.0" stroke-width="1.3" fill="#fff" transform="rotate(-12 648.5 301.5)"/>
<ellipse cx="657.3" cy="299.6" rx="0.9" ry="0.9" stroke-width="0" fill="#000"/>
<ellipse cx="657.6" cy="304.5" rx="0.9" ry="0.9" stroke-width="0" fill="#000"/>
<ellipse cx="656.6" cy="308.8" rx="0.9" ry="0.9" stroke-width="0" fill="#000"/>
<ellipse cx="654.3" cy="312.1" rx="0.9" ry="0.9" stroke-width="0" fill="#000"/>
<ellipse cx="651.1" cy="313.7" rx="0.9" ry="0.9" stroke-width="0" fill="#000"/>
<ellipse cx="647.5" cy="313.5" rx="0.9" ry="0.9" stroke-width="0" fill="#000"/>
<ellipse cx="644.1" cy="311.5" rx="0.9" ry="0.9" stroke-width="0" fill="#000"/>
<ellipse cx="641.4" cy="307.9" rx="0.9" ry="0.9" stroke-width="0" fill="#000"/>
<ellipse cx="639.7" cy="303.4" rx="0.9" ry="0.9" stroke-width="0" fill="#000"/>
<ellipse cx="639.4" cy="298.5" rx="0.9" ry="0.9" stroke-width="0" fill="#000"/>
<ellipse cx="640.4" cy="294.2" rx="0.9" ry="0.9" stroke-width="0" fill="#000"/>
<ellipse cx="642.7" cy="290.9" rx="0.9" ry="0.9" stroke-width="0" fill="#000"/>
<ellipse cx="645.9" cy="289.3" rx="0.9" ry="0.9" stroke-width="0" fill="#000"/>
<ellipse cx="649.5" cy="289.5" rx="0.9" ry="0.9" stroke-width="0" fill="#000"/>
<ellipse cx="652.9" cy="291.5" rx="0.9" ry="0.9" stroke-width="0" fill="#000"/>
<ellipse cx="655.6" cy="295.1" rx="0.9" ry="0.9" stroke-width="0" fill="#000"/>
<ellipse cx="654.6" cy="302.8" rx="0.9" ry="0.9" stroke-width="0" fill="#000"/>
<ellipse cx="653.6" cy="307.1" rx="0.9" ry="0.9" stroke-width="0" fill="#000"/>
<ellipse cx="651.0" cy="309.6" rx="0.9" ry="0.9" stroke-width="0" fill="#000"/>
<ellipse cx="647.6" cy="309.5" rx="0.9" ry="0.9" stroke-width="0" fill="#000"/>
<ellipse cx="644.5" cy="307.0" rx="0.9" ry="0.9" stroke-width="0" fill="#000"/>
<ellipse cx="642.6" cy="302.6" rx="0.9" ry="0.9" stroke-width="0" fill="#000"/>
<ellipse cx="642.6" cy="297.9" rx="0.9" ry="0.9" stroke-width="0" fill="#000"/>
<ellipse cx="644.5" cy="294.4" rx="0.9" ry="0.9" stroke-width="0" fill="#000"/>
<ellipse cx="647.7" cy="293.1" rx="0.9" ry="0.9" stroke-width="0" fill="#000"/>
<ellipse cx="651.1" cy="294.5" rx="0.9" ry="0.9" stroke-width="0" fill="#000"/>
<ellipse cx="653.7" cy="298.1" rx="0.9" ry="0.9" stroke-width="0" fill="#000"/>
<ellipse cx="646.5" cy="301.5" rx="4.5" ry="5.5" stroke-width="1.0" fill="#444" transform="rotate(-12 646.5 301.5)"/>
<ellipse cx="664.5" cy="292.0" rx="3.0" ry="5.0" stroke-width="1.1" fill="none"/>
<path d="M646,314 L646,349 M656,317 L656.5,349" stroke-width="1.4" fill="none"/>
<path d="M663,315 C668,330 669,345 669,356" stroke-width="1.0" fill="none"/>
<path d="M646.5,364 L650,571 M655.5,365 L656,571" stroke-width="0.8" fill="none"/>
<ellipse cx="643.0" cy="355.0" rx="6.0" ry="6.0" stroke-width="1.1" fill="#fff"/>
<path d="M649,349 L657,349 L660,356 L657,363 L649,363" stroke-width="1.1" fill="#fff"/>
<path d="M659,354 L670,355 L673,362 L668,367 L661,363 Z" stroke-width="1.1" fill="#fff"/>
<path d="M668.8,365.8 L669.0,368.3 L669.2,370.9 L669.3,373.4 L669.5,376.0 L669.5,378.5 L669.6,381.0 L669.6,383.5 L669.6,385.9 L669.6,388.4 L669.5,390.8 L669.4,393.2 L669.3,395.6 L669.1,398.0 L668.9,400.3 L668.6,402.7 L668.3,405.0 L668.0,407.3 L667.7,409.6 L667.3,411.8 L666.9,414.0 L666.4,416.3 L665.9,418.4 L665.4,420.6 L664.8,422.8 L664.2,424.9 L663.6,427.0 L662.9,429.1 L662.1,431.1 L661.4,433.1 L660.6,435.1 L659.7,437.1 L658.8,439.1 L657.9,441.0 L656.9,442.9 L655.9,444.7 L654.9,446.6 L653.8,448.4 L652.7,450.2 L651.5,451.9 L650.3,453.6 L649.1,455.2 L648.0,456.7 L646.9,458.2 L645.9,459.8 L644.8,461.3 L643.7,462.9 L642.7,464.6 L641.6,466.2 L640.6,467.9 L639.5,469.5 L638.5,471.2 L637.5,473.0 L636.5,474.7 L635.5,476.4 L634.5,478.2 L633.6,480.0 L632.6,481.8 L631.6,483.7 L630.7,485.5 L629.8,487.4 L628.8,489.2 L627.9,491.1 L627.0,493.1 L626.1,495.0 L625.3,496.9 L624.4,498.9 L623.5,500.9 L622.7,502.9 L621.9,504.9 L621.1,506.9 L620.3,508.9 L619.5,511.0 L618.7,513.0 L617.9,515.1 L617.2,517.2 L616.5,519.3 L615.7,521.4 L615.0,523.5 L614.4,525.7 L613.7,527.8 L613.0,530.0 L612.4,532.1 L611.8,534.3 L611.2,536.4 L610.6,538.6 L610.0,540.7 L609.5,542.9 L609.0,545.0 L608.5,547.1 L608.0,549.2 L607.5,551.3 L607.1,553.4 L606.7,555.5 L606.3,557.6 L606.0,559.6 L605.6,561.7 L605.3,563.7 L605.0,565.7 L604.8,567.7 L604.5,569.7 L604.3,571.7 L604.1,573.6 L604.0,575.5 L603.9,577.4 L603.8,579.3 L603.7,581.2 L603.6,583.0 L603.6,584.8 L603.6,586.6 L603.7,588.4 L603.7,590.1 L603.8,591.8 L604.0,593.5 L604.1,595.1 L604.3,596.7 L604.5,598.3 L604.8,599.9 L605.1,601.4 L605.4,602.9 L605.7,604.2 L606.2,605.5 L606.7,606.8 L607.3,607.9 L608.0,609.1 L608.8,610.1 L609.5,611.0 L610.3,611.8 L611.2,612.6 L612.1,613.3 L613.0,613.8 L614.0,614.4 L614.9,614.8 L616.0,615.1 L617.0,615.4 L618.1,615.6 L619.2,615.7 L620.3,615.7 L621.4,615.6 L622.6,615.4 L623.8,615.2 L625.0,614.8 L626.2,614.4 L627.4,613.8 L628.7,613.2 L629.9,612.4 L631.2,611.5 L632.4,610.6 L633.6,609.5 L634.8,608.3 L636.0,607.0 L637.2,605.5 L638.4,604.0 L639.5,602.3 L640.6,600.5 L641.7,598.6 L642.7,596.6 L643.7,594.4 L644.6,592.1 L645.5,589.7 L646.3,587.1" stroke-width="1.1"/>
<path d="M663.2,366.2 L663.4,368.8 L663.6,371.3 L663.7,373.7 L663.9,376.2 L663.9,378.6 L664.0,381.1 L664.0,383.5 L664.0,385.9 L664.0,388.2 L663.9,390.6 L663.8,392.9 L663.7,395.2 L663.5,397.5 L663.3,399.8 L663.1,402.0 L662.8,404.3 L662.5,406.5 L662.2,408.7 L661.8,410.8 L661.4,413.0 L660.9,415.1 L660.5,417.2 L660.0,419.2 L659.4,421.3 L658.8,423.3 L658.2,425.3 L657.6,427.2 L656.9,429.2 L656.2,431.1 L655.4,433.0 L654.6,434.9 L653.8,436.7 L652.9,438.5 L652.0,440.3 L651.0,442.0 L650.1,443.7 L649.0,445.4 L648.0,447.1 L646.9,448.7 L645.7,450.4 L644.6,451.9 L643.5,453.4 L642.4,455.0 L641.3,456.6 L640.2,458.2 L639.1,459.9 L638.0,461.5 L636.9,463.2 L635.8,464.9 L634.8,466.6 L633.7,468.4 L632.7,470.1 L631.6,471.9 L630.6,473.7 L629.6,475.5 L628.6,477.4 L627.6,479.2 L626.7,481.1 L625.7,483.0 L624.7,484.9 L623.8,486.8 L622.9,488.7 L621.9,490.7 L621.0,492.7 L620.1,494.7 L619.3,496.7 L618.4,498.7 L617.5,500.7 L616.7,502.8 L615.9,504.8 L615.1,506.9 L614.2,509.0 L613.5,511.1 L612.7,513.2 L611.9,515.3 L611.2,517.5 L610.4,519.6 L609.7,521.8 L609.0,524.0 L608.3,526.2 L607.7,528.4 L607.0,530.6 L606.4,532.8 L605.8,534.9 L605.2,537.1 L604.6,539.3 L604.0,541.5 L603.5,543.7 L603.0,545.8 L602.5,548.0 L602.1,550.2 L601.6,552.3 L601.2,554.4 L600.8,556.6 L600.4,558.7 L600.1,560.8 L599.8,562.9 L599.5,565.0 L599.2,567.0 L599.0,569.1 L598.8,571.1 L598.6,573.1 L598.4,575.1 L598.3,577.1 L598.2,579.0 L598.1,581.0 L598.0,582.9 L598.0,584.8 L598.0,586.7 L598.1,588.5 L598.1,590.4 L598.3,592.2 L598.4,594.0 L598.6,595.7 L598.8,597.4 L599.0,599.2 L599.3,600.8 L599.6,602.5 L599.9,604.1 L600.3,605.8 L601.0,607.6 L601.7,609.2 L602.5,610.7 L603.4,612.1 L604.3,613.5 L605.4,614.7 L606.5,615.9 L607.6,616.9 L608.9,617.9 L610.2,618.7 L611.5,619.4 L612.9,620.0 L614.4,620.5 L615.9,620.9 L617.4,621.1 L618.9,621.3 L620.5,621.3 L622.0,621.2 L623.6,620.9 L625.2,620.6 L626.8,620.1 L628.3,619.5 L629.9,618.8 L631.5,618.0 L633.0,617.1 L634.5,616.0 L636.0,614.9 L637.4,613.6 L638.9,612.2 L640.3,610.6 L641.6,609.0 L642.9,607.2 L644.2,605.4 L645.4,603.4 L646.6,601.2 L647.8,599.0 L648.8,596.6 L649.8,594.2 L650.8,591.5 L651.7,588.9" stroke-width="1.1"/>
<path d="M655,425 L670,417 L676,426 L661,434 Z" stroke-width="1.1" fill="#fff"/>
<ellipse cx="673.0" cy="421.5" rx="3.0" ry="5.0" stroke-width="1.6" fill="none" transform="rotate(-30 673 421.5)"/>
<line x1="306.0" y1="834.5" x2="541.0" y2="703.6" stroke-width="1.4"/>
<line x1="776.0" y1="834.5" x2="541.0" y2="703.6" stroke-width="1.4"/>
<line x1="348.0" y1="818.5" x2="541.0" y2="711.0" stroke-width="1.4"/>
<line x1="734.0" y1="818.5" x2="541.0" y2="711.0" stroke-width="1.4"/>
<line x1="306.0" y1="845.5" x2="472.0" y2="753.0" stroke-width="1.4"/>
<line x1="776.0" y1="845.5" x2="610.0" y2="753.0" stroke-width="1.4"/>
<line x1="348.0" y1="830.7" x2="472.0" y2="761.6" stroke-width="1.4"/>
<line x1="734.0" y1="830.7" x2="610.0" y2="761.6" stroke-width="1.4"/>
<line x1="318.0" y1="867.6" x2="472.0" y2="781.8" stroke-width="1.4"/>
<line x1="764.0" y1="867.6" x2="610.0" y2="781.8" stroke-width="1.4"/>
<line x1="348.0" y1="865.1" x2="472.5" y2="793.9" stroke-width="1.8"/>
<line x1="734.0" y1="865.1" x2="609.5" y2="793.9" stroke-width="1.8"/>
<path d="M471.2,746.4 C480,742.3 495,741.6 503.2,741.6 L580,741.6 C590,741.6 603,742.3 610.4,747.2 C613,760 605,769 597,772 L485,772 C477,769 469,760 471.2,746.4 Z" stroke-width="1.4" fill="#fff"/>
<path d="M471.2,749.6 C480,745.5 495,744.8 503.2,744.8 L580,744.8 C590,744.8 603,745.5 610.4,750.4" stroke-width="1.4" fill="none"/>
<path d="M471.2,757.6 C480,753.5 495,752.8 503.2,752.8 L580,752.8 C590,752.8 603,753.5 610.4,758.4" stroke-width="1.4" fill="none"/>
<line x1="502.4" y1="744.8" x2="502.4" y2="770.8" stroke-width="1.4"/>
<line x1="580.8" y1="744.8" x2="580.8" y2="770.8" stroke-width="1.4"/>
<path d="M471.2,781.6 C478,777 490,773 503,773 L580,773 C592,773 604,777 610.4,781.6" stroke-width="1.4" fill="none"/>
<path d="M472.5,792.5 L498.75,778.75 Q505,776.25 511.25,778.75 Q515,781.25 516.5,787" stroke-width="1.5" fill="none"/>
<path d="M565.5,787 Q567,781.25 570.75,778.75 Q577,776.25 583.25,778.75 L609.5,792.5" stroke-width="1.5" fill="none"/>
<ellipse cx="541.0" cy="788.8" rx="25.0" ry="16.0" stroke-width="1.5" fill="none"/>
<path d="M516,792 Q541,812 566,792" stroke-width="1.0" fill="none"/>
<path d="M338.6,828.2 C333,830.5 329.3,835.5 328.4,841 C327.9,845 328.8,848.5 330.6,851" stroke-width="1.3" fill="none"/>
<path d="M338.6,831.3 C335,833.5 331.8,838 331.3,842.3 C331,846 331.8,849 333.6,851.8" stroke-width="1.2" fill="none"/>
<path d="M743.4,828.2 C749,830.5 752.7,835.5 753.6,841 C754.1,845 753.2,848.5 751.4,851" stroke-width="1.3" fill="none"/>
<path d="M743.4,831.3 C747,833.5 750.2,838 750.7,842.3 C751,846 750.2,849 748.4,851.8" stroke-width="1.2" fill="none"/>
<ellipse cx="445.7" cy="567.6" rx="10.8" ry="9.4" stroke-width="2.0" fill="none"/>
<line x1="431.0" y1="577.4" x2="439.0" y2="562.4" stroke-width="1.4"/>
<line x1="446.0" y1="588.4" x2="453.0" y2="573.4" stroke-width="1.4"/>
<path d="M433.7,573.9 A8.8,7 0 0 1 451.3,573.9" stroke-width="1.3" fill="none"/>
<ellipse cx="438.0" cy="584.4" rx="10.7" ry="9.6" stroke-width="1.8" fill="#fff"/>
<ellipse cx="437.3" cy="585.5" rx="8.5" ry="7.5" stroke-width="1.1" fill="none"/>
<ellipse cx="636.8" cy="568.2" rx="10.8" ry="9.4" stroke-width="2.0" fill="none"/>
<line x1="651.5" y1="578.0" x2="643.5" y2="563.0" stroke-width="1.4"/>
<line x1="636.5" y1="589.0" x2="629.5" y2="574.0" stroke-width="1.4"/>
<path d="M631.2,574.5 A8.8,7 0 0 1 648.8,574.5" stroke-width="1.3" fill="none"/>
<ellipse cx="644.5" cy="585.0" rx="10.7" ry="9.6" stroke-width="1.8" fill="#fff"/>
<ellipse cx="645.2" cy="586.1" rx="8.5" ry="7.5" stroke-width="1.1" fill="none"/>
<path d="M283.5,835 L297.0,835.0 L300.1,836.7 L303.1,838.4 L306.2,840.1 L309.2,841.9 L312.3,843.6 L315.3,845.4 L318.4,847.1 L321.4,848.9 L324.5,850.7 L327.6,852.5 L330.6,854.2 L333.7,856.0 L336.7,857.8 L339.8,859.6 L342.8,861.3 L345.9,863.1 L349.0,864.8 L352.0,866.6 L355.1,868.3 L358.1,870.0 L361.2,871.7 L364.2,873.4 L367.3,875.1 L370.4,876.7 L373.4,878.3 L376.5,880.0 L379.5,881.5 L382.6,883.1 L385.6,884.6 L388.7,886.2 L391.7,887.7 L394.8,889.1 L397.9,890.6 L400.9,892.0 L404.0,893.3 L407.0,894.7 L410.1,896.0 L413.1,897.3 L416.2,898.6 L419.2,899.8 L422.3,901.0 L425.4,902.2 L428.4,903.3 L431.5,904.4 L434.5,905.4 L437.6,906.5 L440.6,907.5 L443.7,908.4 L446.8,909.3 L449.8,910.2 L452.9,911.1 L455.9,911.9 L459.0,912.7 L462.0,913.4 L465.1,914.2 L468.1,914.8 L471.2,915.5 L474.3,916.1 L477.3,916.7 L480.4,917.2 L483.4,917.7 L486.5,918.2 L489.5,918.7 L492.6,919.1 L495.7,919.5 L498.7,919.8 L501.8,920.2 L504.8,920.5 L507.9,920.7 L510.9,921.0 L514.0,921.2 L517.0,921.4 L520.1,921.5 L523.2,921.7 L526.2,921.8 L529.3,921.9 L532.3,921.9 L535.4,922.0 L538.4,922.0 L541.5,922.0 L544.6,922.0 L547.6,922.0 L550.7,921.9 L553.7,921.9 L556.8,921.8 L559.8,921.7 L562.9,921.5 L566.0,921.4 L569.0,921.2 L572.1,921.0 L575.1,920.7 L578.2,920.5 L581.2,920.2 L584.3,919.8 L587.3,919.5 L590.4,919.1 L593.5,918.7 L596.5,918.2 L599.6,917.8 L602.6,917.2 L605.7,916.7 L608.7,916.1 L611.8,915.5 L614.9,914.9 L617.9,914.2 L621.0,913.5 L624.0,912.7 L627.1,912.0 L630.1,911.1 L633.2,910.3 L636.2,909.4 L639.3,908.5 L642.4,907.5 L645.4,906.5 L648.5,905.5 L651.5,904.5 L654.6,903.4 L657.6,902.3 L660.7,901.1 L663.8,899.9 L666.8,898.7 L669.9,897.5 L672.9,896.2 L676.0,894.9 L679.0,893.5 L682.1,892.2 L685.1,890.8 L688.2,889.3 L691.3,887.9 L694.3,886.4 L697.4,884.9 L700.4,883.4 L703.5,881.9 L706.5,880.3 L709.6,878.7 L712.6,877.1 L715.7,875.5 L718.8,873.8 L721.8,872.1 L724.9,870.5 L727.9,868.8 L731.0,867.1 L734.0,865.4 L737.1,863.6 L740.2,861.9 L743.2,860.2 L746.3,858.4 L749.3,856.7 L752.4,854.9 L755.4,853.2 L758.5,851.4 L761.5,849.7 L764.6,847.9 L767.7,846.2 L770.7,844.4 L773.8,842.7 L776.8,841.0 L779.9,839.3 L782.9,837.7 L786.0,836.0 L799.5,836 L801,895 L801.0,895.0 L797.8,896.9 L794.5,898.8 L791.2,900.7 L788.0,902.7 L784.8,904.6 L781.5,906.6 L778.2,908.6 L775.0,910.5 L771.8,912.5 L768.5,914.5 L765.2,916.5 L762.0,918.5 L758.8,920.5 L755.5,922.5 L752.2,924.5 L749.0,926.4 L745.8,928.4 L742.5,930.3 L739.2,932.3 L736.0,934.2 L732.8,936.1 L729.5,938.0 L726.2,939.9 L723.0,941.7 L719.8,943.5 L716.5,945.3 L713.2,947.1 L710.0,948.9 L706.8,950.6 L703.5,952.3 L700.2,954.0 L697.0,955.6 L693.8,957.2 L690.5,958.8 L687.2,960.3 L684.0,961.9 L680.8,963.3 L677.5,964.8 L674.2,966.2 L671.0,967.6 L667.8,968.9 L664.5,970.2 L661.2,971.5 L658.0,972.7 L654.8,973.9 L651.5,975.1 L648.2,976.2 L645.0,977.3 L641.8,978.3 L638.5,979.3 L635.2,980.3 L632.0,981.2 L628.8,982.1 L625.5,982.9 L622.2,983.7 L619.0,984.5 L615.8,985.2 L612.5,985.9 L609.2,986.5 L606.0,987.1 L602.8,987.7 L599.5,988.3 L596.2,988.8 L593.0,989.2 L589.8,989.7 L586.5,990.1 L583.2,990.4 L580.0,990.8 L576.8,991.1 L573.5,991.3 L570.2,991.6 L567.0,991.8 L563.8,992.0 L560.5,992.1 L557.2,992.2 L554.0,992.3 L550.8,992.4 L547.5,992.5 L544.2,992.5 L541.0,992.5 L537.8,992.5 L534.5,992.5 L531.2,992.4 L528.0,992.3 L524.8,992.2 L521.5,992.1 L518.2,992.0 L515.0,991.8 L511.8,991.6 L508.5,991.3 L505.2,991.1 L502.0,990.8 L498.8,990.4 L495.5,990.1 L492.2,989.7 L489.0,989.2 L485.8,988.8 L482.5,988.3 L479.2,987.7 L476.0,987.2 L472.8,986.5 L469.5,985.9 L466.2,985.2 L463.0,984.5 L459.8,983.7 L456.5,982.9 L453.2,982.1 L450.0,981.2 L446.8,980.3 L443.5,979.3 L440.2,978.3 L437.0,977.3 L433.8,976.2 L430.5,975.1 L427.2,974.0 L424.0,972.8 L420.8,971.5 L417.5,970.3 L414.2,969.0 L411.0,967.6 L407.8,966.3 L404.5,964.9 L401.2,963.4 L398.0,961.9 L394.8,960.4 L391.5,958.9 L388.2,957.3 L385.0,955.7 L381.8,954.1 L378.5,952.4 L375.2,950.7 L372.0,949.0 L368.8,947.3 L365.5,945.5 L362.2,943.7 L359.0,941.9 L355.8,940.0 L352.5,938.2 L349.2,936.3 L346.0,934.4 L342.8,932.5 L339.5,930.6 L336.2,928.7 L333.0,926.7 L329.8,924.7 L326.5,922.8 L323.2,920.8 L320.0,918.8 L316.8,916.9 L313.5,914.9 L310.2,912.9 L307.0,910.9 L303.8,909.0 L300.5,907.0 L297.2,905.0 L294.0,903.1 L290.8,901.2 L287.5,899.3 L284.2,897.4 L281.0,895.5 L281,895.5 Z" fill="#fff" stroke="none"/>
<path d="M295.8,202.2 L306.6,208.7 L306.6,840.4 L295.8,835.0 Z" fill="#fff" stroke="none"/>
<line x1="295.8" y1="202.2" x2="295.8" y2="835.0" stroke-width="1.5"/>
<line x1="298.5" y1="203.8" x2="298.5" y2="835.8" stroke-width="1.25"/>
<line x1="300.6" y1="205.1" x2="300.6" y2="837.0" stroke-width="1.25"/>
<line x1="302.8" y1="206.4" x2="302.8" y2="838.2" stroke-width="1.25"/>
<line x1="306.6" y1="208.7" x2="306.6" y2="840.4" stroke-width="1.5"/>
<path d="M339,228.4 L348,233.7 L348,864.3 L339,859.1 Z" fill="#fff" stroke="none"/>
<line x1="339.0" y1="228.4" x2="339.0" y2="859.1" stroke-width="1.5"/>
<line x1="343.5" y1="231.1" x2="343.5" y2="861.7" stroke-width="1.25"/>
<line x1="348.0" y1="233.7" x2="348.0" y2="864.3" stroke-width="1.5"/>
<path d="M388,255.5 L399,260.8 L399,891.1 L388,885.8 Z" fill="#fff" stroke="none"/>
<line x1="388.0" y1="255.5" x2="388.0" y2="885.8" stroke-width="1.5"/>
<line x1="390.5" y1="256.7" x2="390.5" y2="887.1" stroke-width="1.25"/>
<line x1="394.5" y1="258.6" x2="394.5" y2="889.0" stroke-width="1.25"/>
<line x1="399.0" y1="260.8" x2="399.0" y2="891.1" stroke-width="1.5"/>
<path d="M460.5,282.5 L470,284.6 L470,915.2 L460.5,913.1 Z" fill="#fff" stroke="none"/>
<line x1="460.5" y1="282.5" x2="460.5" y2="913.1" stroke-width="1.5"/>
<line x1="465.5" y1="283.7" x2="465.5" y2="914.3" stroke-width="1.25"/>
<line x1="470.0" y1="284.6" x2="470.0" y2="915.2" stroke-width="1.5"/>
<path d="M613,284.7 L622,282.6 L622,913.2 L613,915.3 Z" fill="#fff" stroke="none"/>
<line x1="613.0" y1="284.7" x2="613.0" y2="915.3" stroke-width="1.5"/>
<line x1="617.5" y1="283.7" x2="617.5" y2="914.3" stroke-width="1.25"/>
<line x1="622.0" y1="282.6" x2="622.0" y2="913.2" stroke-width="1.5"/>
<path d="M684,260.8 L695,255.6 L695,886.1 L684,891.3 Z" fill="#fff" stroke="none"/>
<line x1="684.0" y1="260.8" x2="684.0" y2="891.3" stroke-width="1.5"/>
<line x1="689.0" y1="258.5" x2="689.0" y2="889.0" stroke-width="1.25"/>
<line x1="695.0" y1="255.6" x2="695.0" y2="886.1" stroke-width="1.5"/>
<path d="M734.5,234.2 L744.5,228.3 L744.5,859.4 L734.5,865.1 Z" fill="#fff" stroke="none"/>
<line x1="734.5" y1="234.2" x2="734.5" y2="865.1" stroke-width="1.5"/>
<line x1="739.5" y1="231.2" x2="739.5" y2="862.3" stroke-width="1.25"/>
<line x1="744.5" y1="228.3" x2="744.5" y2="859.4" stroke-width="1.5"/>
<path d="M776.5,209.0 L787,202.7 L787,836.0 L776.5,841.2 Z" fill="#fff" stroke="none"/>
<line x1="776.5" y1="209.0" x2="776.5" y2="841.2" stroke-width="1.5"/>
<line x1="779.2" y1="207.3" x2="779.2" y2="839.7" stroke-width="1.25"/>
<line x1="781.4" y1="206.0" x2="781.4" y2="838.5" stroke-width="1.25"/>
<line x1="783.5" y1="204.8" x2="783.5" y2="837.4" stroke-width="1.25"/>
<line x1="787.0" y1="202.7" x2="787.0" y2="836.0" stroke-width="1.5"/>
<path d="M386,256.3 L342.5,275.5 Q339,277 339,281 L339,358 Q339,363 345,362.7 L501,290" stroke-width="1.4" fill="none"/>
<ellipse cx="362.2" cy="308.1" rx="3.2" ry="5.0" stroke-width="1.4" fill="none"/>
<line x1="283.5" y1="178.0" x2="283.5" y2="843.0" stroke-width="1.3"/>
<line x1="799.5" y1="178.0" x2="799.5" y2="842.0" stroke-width="1.3"/>
<path d="M297.0,835.0 L303.1,838.4 L309.2,841.9 L315.3,845.4 L321.4,848.9 L327.6,852.5 L333.7,856.0 L339.8,859.6 L345.9,863.1 L352.0,866.6 L358.1,870.0 L364.2,873.4 L370.4,876.7 L376.5,880.0 L382.6,883.1 L388.7,886.2 L394.8,889.1 L400.9,892.0 L407.0,894.7 L413.1,897.3 L419.2,899.8 L425.4,902.2 L431.5,904.4 L437.6,906.5 L443.7,908.4 L449.8,910.2 L455.9,911.9 L462.0,913.4 L468.1,914.8 L474.3,916.1 L480.4,917.2 L486.5,918.2 L492.6,919.1 L498.7,919.8 L504.8,920.5 L510.9,921.0 L517.0,921.4 L523.2,921.7 L529.3,921.9 L535.4,922.0 L541.5,922.0 L547.6,922.0 L553.7,921.9 L559.8,921.7 L566.0,921.4 L572.1,921.0 L578.2,920.5 L584.3,919.8 L590.4,919.1 L596.5,918.2 L602.6,917.2 L608.7,916.1 L614.9,914.9 L621.0,913.5 L627.1,912.0 L633.2,910.3 L639.3,908.5 L645.4,906.5 L651.5,904.5 L657.6,902.3 L663.8,899.9 L669.9,897.5 L676.0,894.9 L682.1,892.2 L688.2,889.3 L694.3,886.4 L700.4,883.4 L706.5,880.3 L712.6,877.1 L718.8,873.8 L724.9,870.5 L731.0,867.1 L737.1,863.6 L743.2,860.2 L749.3,856.7 L755.4,853.2 L761.5,849.7 L767.7,846.2 L773.8,842.7 L779.9,839.3 L786.0,836.0" stroke-width="1.6" fill="none"/>
<path d="M297.0,838.5 L303.1,841.9 L309.2,845.4 L315.3,848.9 L321.4,852.4 L327.6,856.0 L333.7,859.5 L339.8,863.1 L345.9,866.6 L352.0,870.1 L358.1,873.5 L364.2,876.9 L370.4,880.2 L376.5,883.5 L382.6,886.6 L388.7,889.7 L394.8,892.6 L400.9,895.5 L407.0,898.2 L413.1,900.8 L419.2,903.3 L425.4,905.7 L431.5,907.9 L437.6,910.0 L443.7,911.9 L449.8,913.7 L455.9,915.4 L462.0,916.9 L468.1,918.3 L474.3,919.6 L480.4,920.7 L486.5,921.7 L492.6,922.6 L498.7,923.3 L504.8,924.0 L510.9,924.5 L517.0,924.9 L523.2,925.2 L529.3,925.4 L535.4,925.5 L541.5,925.5 L547.6,925.5 L553.7,925.4 L559.8,925.2 L566.0,924.9 L572.1,924.5 L578.2,924.0 L584.3,923.3 L590.4,922.6 L596.5,921.7 L602.6,920.7 L608.7,919.6 L614.9,918.4 L621.0,917.0 L627.1,915.5 L633.2,913.8 L639.3,912.0 L645.4,910.0 L651.5,908.0 L657.6,905.8 L663.8,903.4 L669.9,901.0 L676.0,898.4 L682.1,895.7 L688.2,892.8 L694.3,889.9 L700.4,886.9 L706.5,883.8 L712.6,880.6 L718.8,877.3 L724.9,874.0 L731.0,870.6 L737.1,867.1 L743.2,863.7 L749.3,860.2 L755.4,856.7 L761.5,853.2 L767.7,849.7 L773.8,846.2 L779.9,842.8 L786.0,839.5" stroke-width="1.0" fill="none"/>
<path d="M296.6,835 L296.6,847" stroke-width="1.4" fill="none"/>
<path d="M785.4,836 L785.4,847" stroke-width="1.4" fill="none"/>
<path d="M283.0,842.0 L289.4,845.7 L295.9,849.4 L302.4,853.2 L308.8,857.0 L315.2,860.8 L321.7,864.6 L328.1,868.5 L334.6,872.3 L341.1,876.0 L347.5,879.8 L353.9,883.4 L360.4,887.0 L366.9,890.5 L373.3,893.9 L379.8,897.2 L386.2,900.4 L392.6,903.5 L399.1,906.4 L405.6,909.2 L412.0,911.9 L418.4,914.5 L424.9,916.9 L431.4,919.2 L437.8,921.3 L444.2,923.2 L450.7,925.1 L457.1,926.7 L463.6,928.2 L470.1,929.6 L476.5,930.8 L482.9,931.9 L489.4,932.8 L495.9,933.6 L502.3,934.3 L508.8,934.9 L515.2,935.3 L521.6,935.6 L528.1,935.8 L534.5,936.0 L541.0,936.0 L547.5,936.0 L553.9,935.8 L560.4,935.6 L566.8,935.3 L573.2,934.9 L579.7,934.3 L586.1,933.6 L592.6,932.8 L599.0,931.9 L605.5,930.8 L612.0,929.6 L618.4,928.2 L624.9,926.7 L631.3,925.1 L637.8,923.2 L644.2,921.3 L650.6,919.2 L657.1,916.9 L663.5,914.5 L670.0,911.9 L676.5,909.2 L682.9,906.4 L689.4,903.5 L695.8,900.4 L702.2,897.2 L708.7,893.9 L715.1,890.5 L721.6,887.0 L728.0,883.4 L734.5,879.8 L741.0,876.0 L747.4,872.3 L753.9,868.5 L760.3,864.6 L766.8,860.8 L773.2,857.0 L779.6,853.2 L786.1,849.4 L792.5,845.7 L799.0,842.0" stroke-width="1.3" fill="none"/>
<path d="M283.0,844.5 L289.4,848.2 L295.9,851.9 L302.4,855.7 L308.8,859.5 L315.2,863.4 L321.7,867.3 L328.1,871.1 L334.6,874.9 L341.1,878.7 L347.5,882.5 L353.9,886.1 L360.4,889.7 L366.9,893.2 L373.3,896.7 L379.8,900.0 L386.2,903.2 L392.6,906.3 L399.1,909.3 L405.6,912.1 L412.0,914.8 L418.4,917.4 L424.9,919.8 L431.4,922.1 L437.8,924.2 L444.2,926.2 L450.7,928.0 L457.1,929.7 L463.6,931.2 L470.1,932.6 L476.5,933.8 L482.9,934.9 L489.4,935.8 L495.9,936.6 L502.3,937.3 L508.8,937.9 L515.2,938.3 L521.6,938.6 L528.1,938.8 L534.5,939.0 L541.0,939.0 L547.5,939.0 L553.9,938.8 L560.4,938.6 L566.8,938.3 L573.2,937.9 L579.7,937.3 L586.1,936.6 L592.6,935.8 L599.0,934.9 L605.5,933.8 L612.0,932.6 L618.4,931.2 L624.9,929.7 L631.3,928.0 L637.8,926.2 L644.2,924.2 L650.6,922.1 L657.1,919.8 L663.5,917.4 L670.0,914.8 L676.5,912.1 L682.9,909.3 L689.4,906.3 L695.8,903.2 L702.2,900.0 L708.7,896.7 L715.1,893.2 L721.6,889.7 L728.0,886.1 L734.5,882.5 L741.0,878.7 L747.4,874.9 L753.9,871.1 L760.3,867.3 L766.8,863.4 L773.2,859.5 L779.6,855.7 L786.1,851.9 L792.5,848.2 L799.0,844.5" stroke-width="1.0" fill="none"/>
<path d="M281.0,895.5 L287.5,899.3 L294.0,903.1 L300.5,907.0 L307.0,910.9 L313.5,914.9 L320.0,918.8 L326.5,922.8 L333.0,926.7 L339.5,930.6 L346.0,934.4 L352.5,938.2 L359.0,941.9 L365.5,945.5 L372.0,949.0 L378.5,952.4 L385.0,955.7 L391.5,958.9 L398.0,961.9 L404.5,964.9 L411.0,967.6 L417.5,970.3 L424.0,972.8 L430.5,975.1 L437.0,977.3 L443.5,979.3 L450.0,981.2 L456.5,982.9 L463.0,984.5 L469.5,985.9 L476.0,987.2 L482.5,988.3 L489.0,989.2 L495.5,990.1 L502.0,990.8 L508.5,991.3 L515.0,991.8 L521.5,992.1 L528.0,992.3 L534.5,992.5 L541.0,992.5 L547.5,992.5 L554.0,992.3 L560.5,992.1 L567.0,991.8 L573.5,991.3 L580.0,990.8 L586.5,990.1 L593.0,989.2 L599.5,988.3 L606.0,987.1 L612.5,985.9 L619.0,984.5 L625.5,982.9 L632.0,981.2 L638.5,979.3 L645.0,977.3 L651.5,975.1 L658.0,972.7 L664.5,970.2 L671.0,967.6 L677.5,964.8 L684.0,961.9 L690.5,958.8 L697.0,955.6 L703.5,952.3 L710.0,948.9 L716.5,945.3 L723.0,941.7 L729.5,938.0 L736.0,934.2 L742.5,930.3 L749.0,926.4 L755.5,922.5 L762.0,918.5 L768.5,914.5 L775.0,910.5 L781.5,906.6 L788.0,902.7 L794.5,898.8 L801.0,895.0" stroke-width="1.3" fill="none"/>
<line x1="281.0" y1="843.5" x2="281.0" y2="895.5" stroke-width="1.3"/>
<line x1="801.0" y1="842.5" x2="801.0" y2="895.0" stroke-width="1.3"/>
</svg></body></html>
